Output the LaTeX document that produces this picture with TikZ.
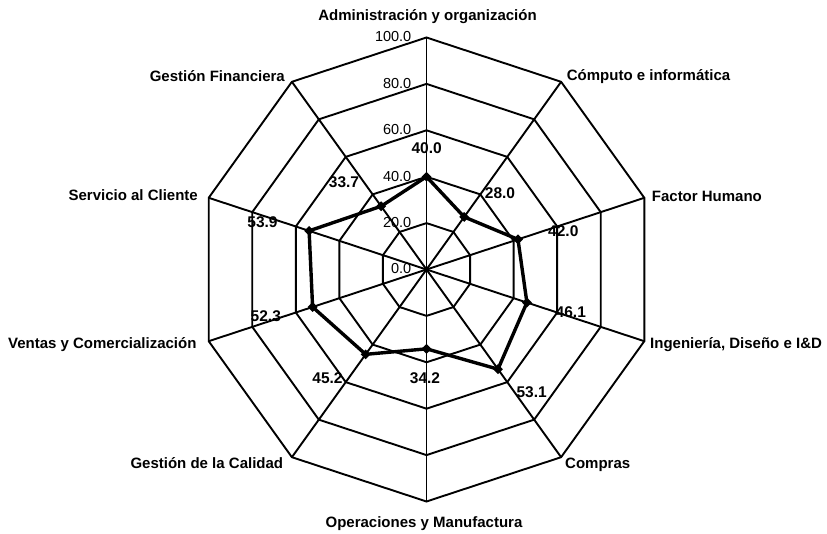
\documentclass[tikz,border=0pt]{standalone}
\usepackage{fontspec}
\setmainfont{Liberation Sans}
\usetikzlibrary{shapes.geometric}
\begin{document}
\begin{tikzpicture}[x=1pt,y=-1pt,
  gridline/.style={line width=1.9pt, line join=miter},
  dataline/.style={line width=3.4pt, line join=round},
  datamark/.style={diamond, fill=black, inner sep=0pt, minimum size=10pt},
  axlab/.style={font=\bfseries\fontsize{15}{18}\selectfont, inner sep=0pt},
  vallab/.style={font=\bfseries\fontsize{15.5}{18}\selectfont, inner sep=0pt},
  scalelab/.style={font=\fontsize{14.5}{17}\selectfont, inner sep=0pt, anchor=east}]
\useasboundingbox[fill=white] (0,0) rectangle (827,534);
\def\cx{426.5}\def\cy{269.5}\def\rx{2.29}\def\ry{2.32}
\coordinate (c) at (\cx,\cy);
\foreach \k in {0,...,9}{
  \foreach \L in {20,40,60,80,100}{
    \coordinate (g\L-\k) at ({\cx+\rx*\L*sin(36*\k)},{\cy-\ry*\L*cos(36*\k)});
  }
}
% grid rings
\foreach \L in {20,40,60,80,100}{
  \draw[gridline] (g\L-0) -- (g\L-1) -- (g\L-2) -- (g\L-3) -- (g\L-4) -- (g\L-5) -- (g\L-6) -- (g\L-7) -- (g\L-8) -- (g\L-9) -- cycle;
}
% spokes
\foreach \k in {0,...,9}{
  \draw[gridline] (c) -- (g100-\k);
}
% scale labels
\foreach \L/\t in {0/0.0,20/20.0,40/40.0,60/60.0,80/80.0,100/100.0}{
  \node[scalelab] (s\L) at (411.5,{\cy-\ry*\L-0.5}) {\t};
}
% data
\foreach \k/\v in {0/40.0,1/28.0,2/42.0,3/46.1,4/53.1,5/34.2,6/45.2,7/52.3,8/53.9,9/33.7}{
  \coordinate (d\k) at ({\cx+\rx*\v*sin(36*\k)},{\cy-\ry*\v*cos(36*\k)});
}
\draw[dataline] (d0) -- (d1) -- (d2) -- (d3) -- (d4) -- (d5) -- (d6) -- (d7) -- (d8) -- (d9) -- cycle;
\foreach \k in {0,...,9}{
  \node[datamark] (m\k) at (d\k) {};
}
% value labels
\node[vallab] (v0) at (426.7,147.8) {40.0};
\node[vallab] (v1) at (500,193) {28.0};
\node[vallab] (v2) at (563.3,231.3) {42.0};
\node[vallab] (v3) at (570.8,312.5) {46.1};
\node[vallab] (v4) at (531.7,391.7) {53.1};
\node[vallab] (v5) at (425,378.3) {34.2};
\node[vallab] (v6) at (327.5,378.3) {45.2};
\node[vallab] (v7) at (265.8,315.8) {52.3};
\node[vallab] (v8) at (262.5,221.7) {53.9};
\node[vallab] (v9) at (344,182.5) {33.7};
% axis labels
\node[axlab, anchor=base] (a0) at (427.5,20.7) {Administración y organización};
\node[axlab, anchor=base west] (a1) at (566.7,81) {Cómputo e informática};
\node[axlab, anchor=base west] (a2) at (651.7,201.5) {Factor Humano};
\node[axlab, anchor=base west] (a3) at (650,348.5) {Ingeniería, Diseño e I\&D};
\node[axlab, anchor=base west] (a4) at (565,468.5) {Compras};
\node[axlab, anchor=base] (a5) at (424,527) {Operaciones y Manufactura};
\node[axlab, anchor=base east] (a6) at (283.3,468) {Gestión de la Calidad};
\node[axlab, anchor=base east] (a7) at (196.7,348.5) {Ventas y Comercialización};
\node[axlab, anchor=base east] (a8) at (198,201) {Servicio al Cliente};
\node[axlab, anchor=base east] (a9) at (285,81.3) {Gestión Financiera};
\end{tikzpicture}
\end{document}
